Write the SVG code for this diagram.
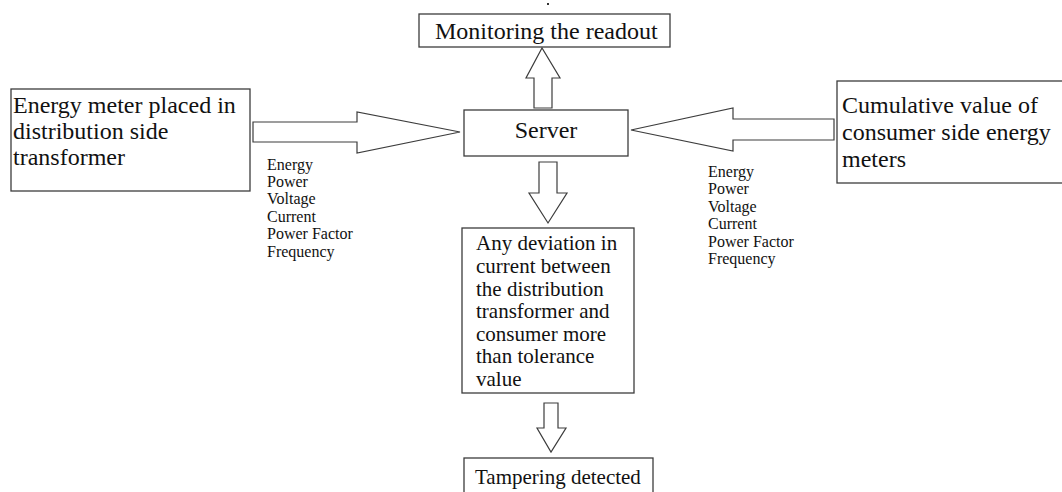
<svg xmlns="http://www.w3.org/2000/svg" width="1062" height="492" viewBox="0 0 1062 492">
<style>
.box{fill:#fff;stroke:#3c3c3c;stroke-width:1.3}
.arr{fill:#fff;stroke:#3c3c3c;stroke-width:1.2;stroke-linejoin:miter}
.big{font-family:"Liberation Serif","Times New Roman",serif;font-size:24px;fill:#111}
.mid{font-family:"Liberation Serif","Times New Roman",serif;font-size:21px;fill:#111}
.sm{font-family:"Liberation Serif","Times New Roman",serif;font-size:16px;fill:#111}
</style>
<rect width="1062" height="492" fill="#fff"/>
<rect x="547" y="3" width="2" height="2" fill="#333"/>
<g id="connectors">
<polygon class="arr" points="534,108 534,78 526,78 542,48 560,78 552,78 552,108"/>
<polygon class="arr" points="253,122 357,122 357,112 460,132 357,153 357,142 253,142"/>
<polygon class="arr" points="834,119 733,119 733,108 631,130 733,151 733,140 834,140"/>
<polygon class="arr" points="539,162 557,162 557,193 567,193 548,223 529,193 539,193"/>
<polygon class="arr" points="544,403 558,403 558,428 566,428 551,452 537,428 544,428"/>
</g>
<g id="monitor">
<rect class="box" x="419" y="14" width="251" height="33"/>
<text class="big" x="435" y="39">Monitoring the readout</text>
</g>
<g id="server">
<rect class="box" x="464" y="110" width="164" height="46"/>
<text class="big" x="546" y="138" text-anchor="middle">Server</text>
</g>
<g id="meter">
<rect class="box" x="11" y="89" width="239" height="102"/>
<text class="big" x="13" y="113">Energy meter placed in</text>
<text class="big" x="13" y="139">distribution side</text>
<text class="big" x="13" y="165">transformer</text>
</g>
<g id="left-params">
<text class="sm" x="267" y="170">Energy</text>
<text class="sm" x="267" y="187">Power</text>
<text class="sm" x="267" y="204">Voltage</text>
<text class="sm" x="267" y="222">Current</text>
<text class="sm" x="267" y="239">Power Factor</text>
<text class="sm" x="267" y="257">Frequency</text>
</g>
<g id="consumer">
<rect class="box" x="837" y="81" width="240" height="102"/>
<text class="big" x="842" y="113">Cumulative value of</text>
<text class="big" x="842" y="140">consumer side energy</text>
<text class="big" x="842" y="167">meters</text>
</g>
<g id="right-params">
<text class="sm" x="708" y="177">Energy</text>
<text class="sm" x="708" y="194">Power</text>
<text class="sm" x="708" y="212">Voltage</text>
<text class="sm" x="708" y="229">Current</text>
<text class="sm" x="708" y="247">Power Factor</text>
<text class="sm" x="708" y="264">Frequency</text>
</g>
<g id="deviation">
<rect class="box" x="462" y="228" width="172" height="165"/>
<text class="mid" x="476" y="250">Any deviation in</text>
<text class="mid" x="476" y="273">current between</text>
<text class="mid" x="476" y="296">the distribution</text>
<text class="mid" x="476" y="318">transformer and</text>
<text class="mid" x="476" y="341">consumer more</text>
<text class="mid" x="476" y="363">than tolerance</text>
<text class="mid" x="476" y="386">value</text>
</g>
<g id="tamper">
<rect class="box" x="464" y="458" width="189" height="50"/>
<text class="mid" x="475" y="484">Tampering detected</text>
</g>
</svg>
